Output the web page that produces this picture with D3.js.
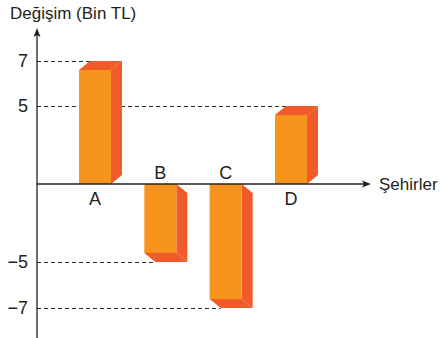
<!DOCTYPE html>
<html lang="tr">
<head>
<meta charset="UTF-8">
<title>Değişim (Bin TL)</title>
<script src="https://d3js.org/d3.v7.min.js"></script>
<style>
  body { margin: 0; background: #fff; }
  text { font-family: "Liberation Sans", Arial, Helvetica, sans-serif; fill: #231f20; }
  .axis { stroke: #231f20; stroke-width: 1.3; fill: none; }
  .guide { stroke: #2b2b2b; stroke-width: 1; stroke-dasharray: 4 3; fill: none; }
</style>
</head>
<body>
<script>
// data
const cities = ["A", "B", "C", "D"];
const changes = [7, -5, -7, 5];
const tickValues = [7, 5, -5, -7];
const yTitle = "Değişim (Bin TL)";
const xTitle = "Şehirler";

const width = 443, height = 338;
const axisX = 37;
const depth = { dx: 11, dy: 9 };
const frontColor = "#f7941e";
const sideColor = "#f15a29";

const svg = d3.select("body").append("svg")
    .attr("width", width)
    .attr("height", height);

// the picture is schematic, so the scale is piecewise between the marked values
const y = d3.scaleLinear()
    .domain([-7, -5, 0, 5, 7])
    .range([308, 262, 184, 106, 61]);

const x = d3.scaleBand()
    .domain(cities)
    .range([79, 307])
    .paddingInner(0.51)
    .paddingOuter(0);

const w = x.bandwidth();
const y0 = y(0);
const bars = cities.map((c, i) => ({ name: c, value: changes[i] }));

// dashed guide lines from the axis to the back corner of each bar
svg.selectAll(".guide")
    .data(bars)
  .enter().append("line")
    .attr("class", "guide")
    .attr("x1", axisX)
    .attr("x2", d => x(d.name) + depth.dx)
    .attr("y1", d => Math.round(y(d.value)) + 0.5)
    .attr("y2", d => Math.round(y(d.value)) + 0.5);

// tick labels
svg.selectAll(".tick")
    .data(tickValues)
  .enter().append("text")
    .attr("class", "tick")
    .attr("x", 28)
    .attr("y", d => y(d))
    .attr("dy", "0.36em")
    .attr("text-anchor", "end")
    .style("font-size", "18px")
    .text(d => d < 0 ? "\u2212" + Math.abs(d) : d);

// 3d bars
const pts = a => a.map(p => p.join(",")).join(" ");
const bar = svg.selectAll(".bar")
    .data(bars)
  .enter().append("g")
    .attr("class", "bar");

bar.each(function(d) {
  const g = d3.select(this);
  const x0 = x(d.name), x1 = x0 + w;
  const yb = y(d.value);
  if (d.value >= 0) {
    const yf = yb + depth.dy;
    g.append("polygon").attr("fill", sideColor)
      .attr("points", pts([[x0, yf], [x0 + depth.dx, yb], [x1 + depth.dx, yb], [x1, yf]]));
    g.append("polygon").attr("fill", sideColor)
      .attr("points", pts([[x1, yf], [x1 + depth.dx, yb], [x1 + depth.dx, y0 - depth.dy], [x1, y0]]));
    g.append("rect").attr("fill", frontColor)
      .attr("x", x0).attr("y", yf).attr("width", w).attr("height", y0 - yf);
  } else {
    const yf = yb - depth.dy;
    g.append("polygon").attr("fill", sideColor)
      .attr("points", pts([[x0, yf], [x1, yf], [x1 + depth.dx, yb], [x0 + depth.dx, yb]]));
    g.append("polygon").attr("fill", sideColor)
      .attr("points", pts([[x1, y0], [x1 + depth.dx, y0 + depth.dy], [x1 + depth.dx, yb], [x1, yf]]));
    g.append("rect").attr("fill", frontColor)
      .attr("x", x0).attr("y", y0).attr("width", w).attr("height", yf - y0);
  }
});

// category labels: below the axis for gains, above it for losses
bar.append("text")
    .attr("x", d => x(d.name) + w / 2)
    .attr("y", d => d.value >= 0 ? y0 + 21 : y0 - 5)
    .attr("text-anchor", "middle")
    .style("font-size", "18px")
    .text(d => d.name);

// axes with arrow heads
svg.append("line").attr("class", "axis")
    .attr("x1", axisX).attr("x2", axisX)
    .attr("y1", 34).attr("y2", height);
svg.append("path")
    .attr("fill", "#231f20")
    .attr("d", `M${axisX},28 L${axisX - 3.5},37 L${axisX},35 L${axisX + 3.5},37 Z`);

svg.append("line").attr("class", "axis")
    .attr("x1", axisX).attr("x2", 365)
    .attr("y1", y0).attr("y2", y0);
svg.append("path")
    .attr("fill", "#231f20")
    .attr("d", `M371,${y0} L362,${y0 - 3.5} L364,${y0} L362,${y0 + 3.5} Z`);

svg.append("text")
    .attr("x", 10).attr("y", 19)
    .style("font-size", "17px")
    .text(yTitle);

svg.append("text")
    .attr("x", 379).attr("y", y0)
    .attr("dy", "0.36em")
    .style("font-size", "17px")
    .text(xTitle);
</script>
</body>
</html>
